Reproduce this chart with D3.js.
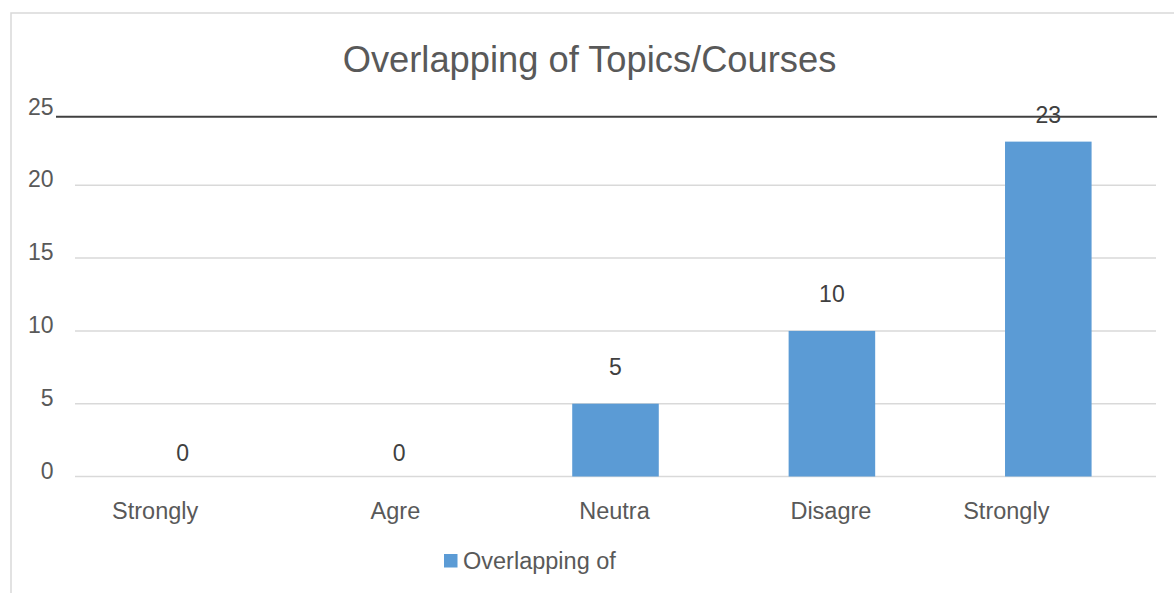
<!DOCTYPE html>
<html>
<head>
<meta charset="utf-8">
<script src="https://cdn.jsdelivr.net/npm/d3@7"></script>
<style>
  html, body { margin: 0; padding: 0; background: #fff; }
  svg { display: block; }
  text { font-family: "Liberation Sans", Arial, sans-serif; }
</style>
</head>
<body>
<svg id="chart" width="1174" height="593"></svg>
<script>
const categories = ["Strongly", "Agre", "Neutra", "Disagre", "Strongly"];
const values = [0, 0, 5, 10, 23];
const yTicks = [0, 5, 10, 15, 20, 25];
const chartTitle = "Overlapping of Topics/Courses";
const seriesName = "Overlapping of";

// horizontal nudges of the (truncated) category labels, in px
const labelNudge = [-27.5, -3.7, -1, -1, -42];

const W = 1174, H = 593;
const svg = d3.select("#chart");

// chart border (extends past the right/bottom edges)
svg.append("rect")
  .attr("x", 11).attr("y", 13)
  .attr("width", W + 20).attr("height", H + 20)
  .attr("fill", "none").attr("stroke", "#d9d9d9").attr("stroke-width", 1.5);

const x = d3.scaleBand()
  .domain(d3.range(categories.length))
  .range([74.5, 1156.5])
  .paddingInner(0.6).paddingOuter(0.3);

const y = d3.scaleLinear().domain([0, 25]).range([476.5, 112.5]);

// gridlines
svg.append("g").selectAll("line")
  .data(yTicks.filter(t => t < 25))
  .join("line")
  .attr("x1", 75).attr("x2", 1156)
  .attr("y1", d => y(d)).attr("y2", d => y(d))
  .attr("stroke", "#d9d9d9").attr("stroke-width", 1.5);

// dark top rule
svg.append("line")
  .attr("x1", 56).attr("x2", 1157)
  .attr("y1", y(25) + 4.2).attr("y2", y(25) + 4.2)
  .attr("stroke", "#404040").attr("stroke-width", 2);

// y tick labels
svg.append("g").selectAll("text")
  .data(yTicks)
  .join("text")
  .attr("x", 53.5)
  .attr("y", d => y(d) + 2)
  .attr("text-anchor", "end")
  .attr("font-size", "23px")
  .attr("fill", "#595959")
  .text(d => d);

// bars
svg.append("g").selectAll("rect")
  .data(values)
  .join("rect")
  .attr("x", (d, i) => x(i))
  .attr("width", x.bandwidth())
  .attr("y", d => y(d))
  .attr("height", d => y(0) - y(d))
  .attr("fill", "#5b9bd5");

// data labels
svg.append("g").selectAll("text")
  .data(values)
  .join("text")
  .attr("x", (d, i) => x(i) + x.bandwidth() / 2)
  .attr("y", d => Math.max(y(d) - (d === 0 ? 15.5 : 29), y(25) + 10))
  .attr("text-anchor", "middle")
  .attr("font-size", "23px")
  .attr("fill", "#404040")
  .text(d => d);

// category labels
svg.append("g").selectAll("text")
  .data(categories)
  .join("text")
  .attr("x", (d, i) => x(i) + x.bandwidth() / 2 + labelNudge[i])
  .attr("y", y(0) + 42.5)
  .attr("text-anchor", "middle")
  .attr("font-size", "23.5px")
  .attr("fill", "#595959")
  .text(d => d);

// title
svg.append("text")
  .attr("x", 589.5).attr("y", 72)
  .attr("text-anchor", "middle")
  .attr("font-size", "36.3px")
  .attr("fill", "#595959")
  .text(chartTitle);

// legend
const lg = svg.append("g").attr("transform", "translate(444,554)");
lg.append("rect").attr("width", 13.5).attr("height", 13.5).attr("fill", "#5b9bd5");
lg.append("text")
  .attr("x", 19).attr("y", 14.5)
  .attr("font-size", "23.5px")
  .attr("fill", "#595959")
  .text(seriesName);
</script>
</body>
</html>
